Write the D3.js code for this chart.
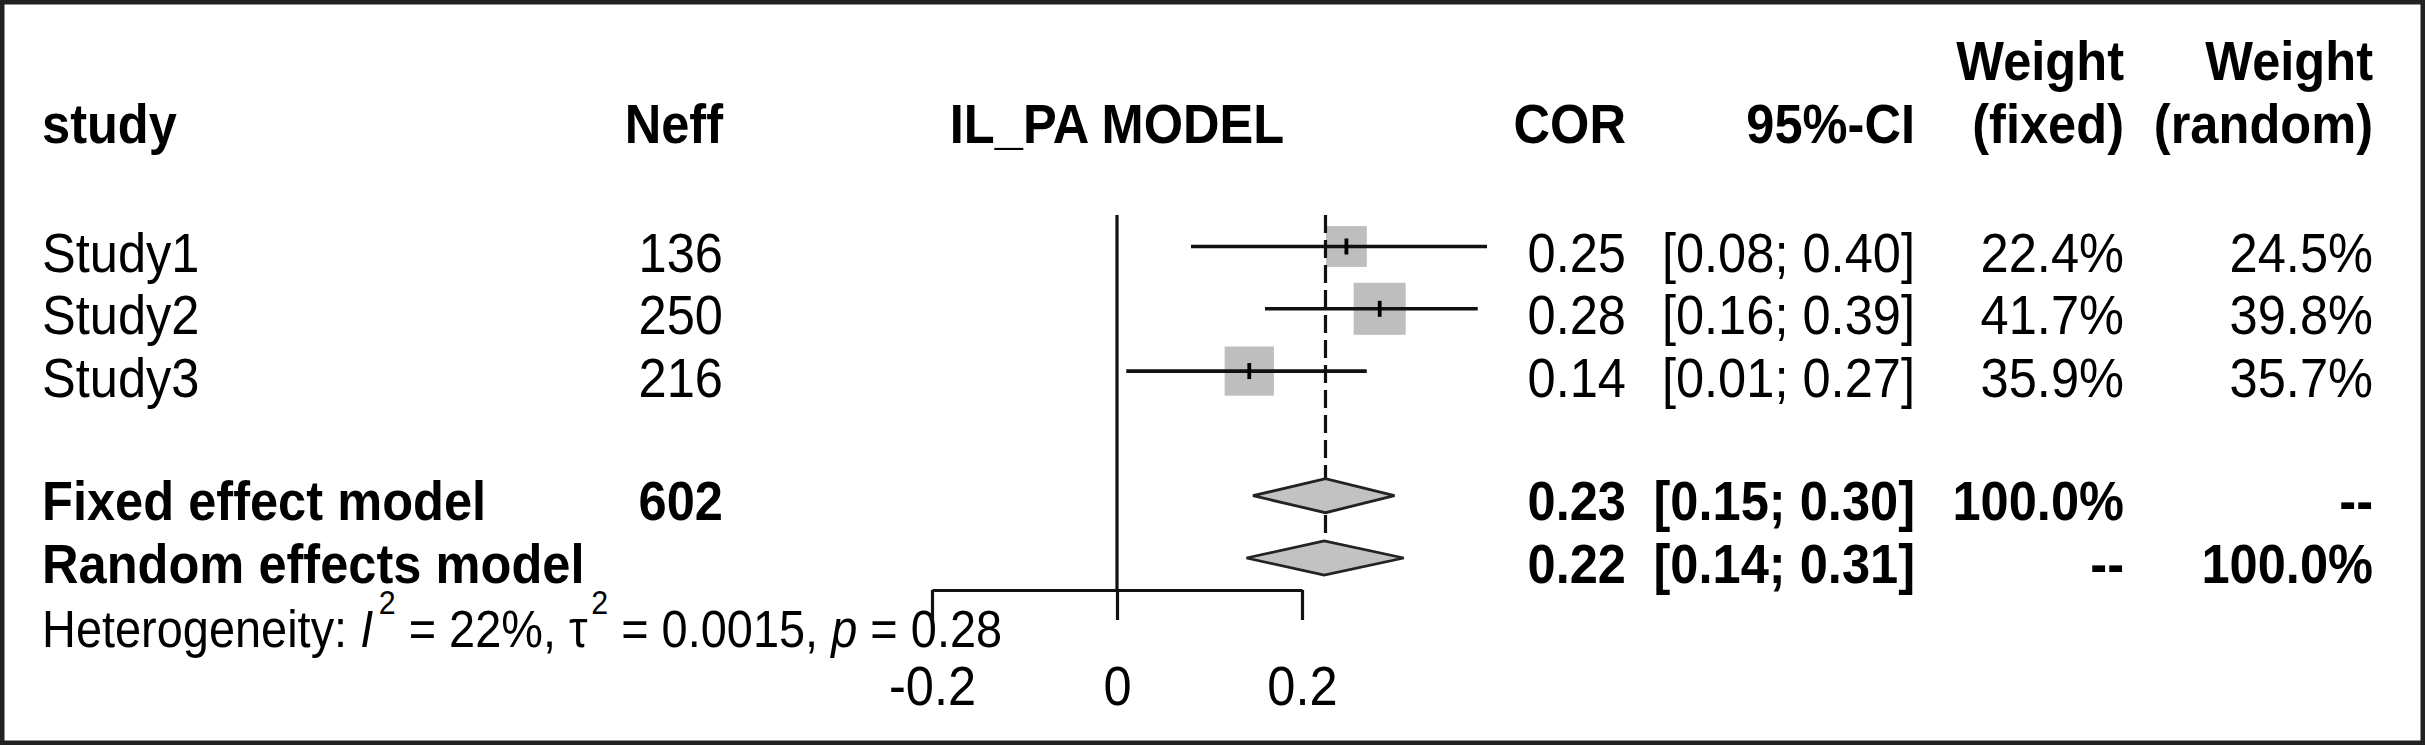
<!DOCTYPE html>
<html>
<head>
<meta charset="utf-8">
<script src="https://cdn.jsdelivr.net/npm/d3@7"></script>
<style>
  html, body { margin: 0; padding: 0; background: #fff; }
  svg { display: block; }
  text { font-family: "Liberation Sans", Arial, Helvetica, sans-serif; fill: #000; }
</style>
</head>
<body>
<svg id="chart" width="2425" height="745"></svg>
<script>
// ---------------- data ----------------
const studies   = ["Study1", "Study2", "Study3"];
const neff      = [136, 250, 216];
const cor       = [0.248, 0.284, 0.143];
const ciLower   = [0.08, 0.16, 0.01];
const ciUpper   = [0.40, 0.39, 0.27];
const wFixed    = [22.4, 41.7, 35.9];
const wRandom   = [24.5, 39.8, 35.7];

const pooledNames = ["Fixed effect model", "Random effects model"];
const pooledNeff  = ["602", ""];
const pooledEst   = [0.2254, 0.224];
const pooledLower = [0.147, 0.14];
const pooledUpper = [0.30, 0.31];
const pooledWFixed  = ["100.0%", "--"];
const pooledWRandom = ["--", "100.0%"];

const axisTicks = [-0.2, 0, 0.2];
const headerCols = ["study", "Neff", "IL_PA MODEL", "COR", "95%-CI"];
const weightHeaders = [["Weight", "(fixed)"], ["Weight", "(random)"]];
const hetI2 = "22%", hetTau2 = "0.0015", hetP = "0.28";

// ---------------- layout ----------------
const W = 2425, H = 745;
const svg = d3.select("#chart");
const FS = 55, SX = 0.92;          // main font size & horizontal condensing
const FS_HET = 51, SX_HET = 0.92;

const x = d3.scaleLinear().domain([-0.2, 0.2]).range([932, 1302]);
const row = d3.scaleLinear().domain([0, 1]).range([246.5, 308.8]);
const baseOff = 25.5;
const plotTop = 215, axisY = 590;

const col = { study: 42, neff: 723, cor: 1626, ci: 1915, wf: 2124, wr: 2373 };

// background + frame
svg.append("rect").attr("x", 0).attr("y", 0).attr("width", W).attr("height", H).attr("fill", "#fff");
svg.append("rect").attr("x", 2.25).attr("y", 2.25).attr("width", W - 4.5).attr("height", H - 4.5)
  .attr("fill", "none").attr("stroke", "#222").attr("stroke-width", 4.5);

function txt(g, str, tx, ty, anchor, bold, fs = FS, sx = SX) {
  return g.append("text")
    .attr("transform", `translate(${tx},${ty}) scale(${sx},1)`)
    .attr("text-anchor", anchor)
    .attr("font-size", fs)
    .attr("font-weight", bold ? "bold" : "normal")
    .text(str);
}

const gT = svg.append("g");
// header
const hY2 = 143, hY1 = 80;
txt(gT, headerCols[0], col.study, hY2, "start", true);
txt(gT, headerCols[1], col.neff, hY2, "end", true);
txt(gT, headerCols[2], (x(-0.2) + x(0.2)) / 2, hY2, "middle", true);
txt(gT, headerCols[3], col.cor, hY2, "end", true);
txt(gT, headerCols[4], col.ci, hY2, "end", true);
txt(gT, weightHeaders[0][0], col.wf, hY1, "end", true);
txt(gT, weightHeaders[0][1], col.wf, hY2, "end", true);
txt(gT, weightHeaders[1][0], col.wr, hY1, "end", true);
txt(gT, weightHeaders[1][1], col.wr, hY2, "end", true);

const f2 = d3.format(".2f");
const pct = v => d3.format(".1f")(v) + "%";
const ciStr = (l, u) => `[${f2(l)}; ${f2(u)}]`;

// study rows
studies.forEach((s, i) => {
  const yb = row(i) + baseOff;
  txt(gT, s, col.study, yb, "start", false);
  txt(gT, String(neff[i]), col.neff, yb, "end", false);
  txt(gT, f2(cor[i]), col.cor, yb, "end", false);
  txt(gT, ciStr(ciLower[i], ciUpper[i]), col.ci, yb, "end", false);
  txt(gT, pct(wFixed[i]), col.wf, yb, "end", false);
  txt(gT, pct(wRandom[i]), col.wr, yb, "end", false);
});

// pooled rows
pooledNames.forEach((s, j) => {
  const yb = row(4 + j) + baseOff - 1;
  txt(gT, s, col.study, yb, "start", true);
  if (pooledNeff[j]) txt(gT, pooledNeff[j], col.neff, yb, "end", true);
  txt(gT, f2(pooledEst[j]), col.cor, yb, "end", true);
  txt(gT, ciStr(pooledLower[j], pooledUpper[j]), col.ci, yb, "end", true);
  txt(gT, pooledWFixed[j], col.wf, yb, "end", true);
  txt(gT, pooledWRandom[j], col.wr, yb, "end", true);
});

// heterogeneity line
const het = gT.append("text")
  .attr("transform", `translate(${col.study},647) scale(${SX_HET},1)`)
  .attr("font-size", FS_HET);
const supUp = -33, supFS = 33;
het.append("tspan").text("Heterogeneity: ");
het.append("tspan").attr("font-style", "italic").text("I");
het.append("tspan").attr("font-size", supFS).attr("dx", 6).attr("dy", supUp).text("2");
het.append("tspan").attr("dy", -supUp).text(` = ${hetI2}, \u03C4`);
het.append("tspan").attr("font-size", supFS).attr("dx", 4).attr("dy", supUp).text("2");
het.append("tspan").attr("dy", -supUp).text(` = ${hetTau2}, `);
het.append("tspan").attr("font-style", "italic").text("p");
het.append("tspan").text(` = ${hetP}`);

// ---------------- forest plot ----------------
const gP = svg.append("g");
const maxW = d3.max(wRandom);
const sqMax = 52;
const side = i => sqMax * Math.sqrt(wRandom[i] / maxW);

// squares
gP.selectAll("rect.sq").data(studies).join("rect").attr("class", "sq")
  .attr("x", (d, i) => x(cor[i]) - side(i) / 2)
  .attr("y", (d, i) => row(i) - side(i) / 2)
  .attr("width", (d, i) => side(i))
  .attr("height", (d, i) => side(i))
  .attr("fill", "#bebebe");

// zero line
gP.append("line").attr("x1", x(0)).attr("x2", x(0)).attr("y1", plotTop).attr("y2", axisY)
  .attr("stroke", "#111").attr("stroke-width", 3.2);

// fixed-effect dashed line
gP.append("line").attr("x1", x(pooledEst[0])).attr("x2", x(pooledEst[0]))
  .attr("y1", plotTop).attr("y2", row(5))
  .attr("stroke", "#111").attr("stroke-width", 3.2).attr("stroke-dasharray", "18,7");

// CI lines
gP.selectAll("line.ci").data(studies).join("line").attr("class", "ci")
  .attr("x1", (d, i) => x(ciLower[i])).attr("x2", (d, i) => x(ciUpper[i]))
  .attr("y1", (d, i) => row(i)).attr("y2", (d, i) => row(i))
  .attr("stroke", "#111").attr("stroke-width", 3.6);

// point marks
gP.selectAll("line.pt").data(studies).join("line").attr("class", "pt")
  .attr("x1", (d, i) => x(cor[i])).attr("x2", (d, i) => x(cor[i]))
  .attr("y1", (d, i) => row(i) - 8).attr("y2", (d, i) => row(i) + 8)
  .attr("stroke", "#000").attr("stroke-width", 3.8);

// diamonds
const dh = 17;
gP.selectAll("polygon.dm").data(pooledNames).join("polygon").attr("class", "dm")
  .attr("points", (d, j) => {
    const yc = row(4 + j);
    return [[x(pooledLower[j]), yc], [x(pooledEst[j]), yc - dh], [x(pooledUpper[j]), yc], [x(pooledEst[j]), yc + dh]]
      .map(p => p.join(",")).join(" ");
  })
  .attr("fill", "#c2c2c2").attr("stroke", "#222").attr("stroke-width", 2.8);

// axis
const axis = d3.axisBottom(x).tickValues(axisTicks).tickSize(30).tickSizeOuter(0)
  .tickFormat(d => String(d));
const gA = svg.append("g").attr("transform", `translate(0,${axisY})`).call(axis);
gA.select(".domain").attr("stroke", "#111").attr("stroke-width", 3.2);
gA.selectAll(".tick line").attr("stroke", "#111").attr("stroke-width", 3.2);
gA.selectAll(".tick text")
  .attr("fill", "#000")
  .attr("font-size", FS)
  .attr("font-family", "\"Liberation Sans\", Arial, sans-serif")
  .attr("y", 115).attr("dy", null)
  .attr("transform", `scale(${SX},1)`);
</script>
</body>
</html>
